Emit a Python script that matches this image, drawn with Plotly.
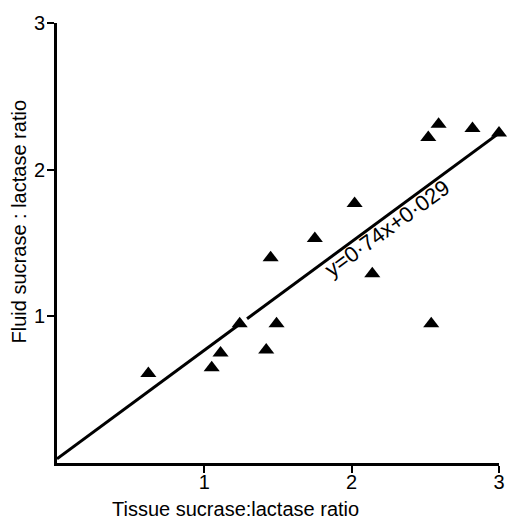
import plotly.graph_objects as go

# Data
tissue_ratio = [0.62, 1.05, 1.11, 1.24, 1.42, 1.45, 1.49, 1.75, 2.02, 2.14, 2.52, 2.54, 2.59, 2.82, 3.00]
fluid_ratio = [0.61, 0.65, 0.75, 0.95, 0.77, 1.40, 0.95, 1.53, 1.77, 1.29, 2.22, 0.95, 2.31, 2.28, 2.25]
slope = 0.74
intercept = 0.029
line_segments = [(0.0, 1.26), (1.29, 3.0)]
tick_vals = [1, 2, 3]
tick_text = ["1", "2", "3"]

FONT = "Liberation Sans, Arial, sans-serif"

fig = go.Figure()

for x0, x1 in line_segments:
    fig.add_trace(go.Scatter(
        x=[x0, x1], y=[slope * x0 + intercept, slope * x1 + intercept],
        mode="lines", line=dict(color="black", width=3),
        showlegend=False, hoverinfo="skip", cliponaxis=False))

fig.add_trace(go.Scatter(
    x=tissue_ratio, y=fluid_ratio, mode="markers",
    marker=dict(symbol="triangle-up", size=14, color="black"),
    showlegend=False, cliponaxis=False))

fig.add_annotation(
    x=2.24, y=1.60, xref="x", yref="y",
    text="y=0·74x+0·029", showarrow=False, textangle=-36,
    font=dict(family=FONT, size=22, color="black"))

fig.add_annotation(
    x=-0.087, y=0.548, xref="paper", yref="paper",
    xanchor="center", yanchor="middle",
    text="Fluid sucrase : lactase ratio", showarrow=False, textangle=-90,
    font=dict(family=FONT, size=20, color="black"))

fig.add_annotation(
    x=0.404, y=-0.105, xref="paper", yref="paper",
    xanchor="center", yanchor="middle",
    text="Tissue sucrase:lactase ratio", showarrow=False,
    font=dict(family=FONT, size=20, color="black"))

axis_common = dict(
    range=[0, 3], showgrid=False, zeroline=False, showline=True,
    linecolor="black", linewidth=3, ticks="outside", ticklen=7,
    tickwidth=2, tickcolor="black", tickvals=tick_vals, ticktext=tick_text,
    tickfont=dict(family=FONT, size=20, color="black"), fixedrange=True,
    ticklabeloverflow="allow")

fig.update_xaxes(**axis_common, ticklabelstandoff=-8)
fig.update_yaxes(**axis_common, ticklabelstandoff=-2)

fig.update_layout(
    width=511, height=520,
    margin=dict(l=57, r=6, t=23, b=57),
    plot_bgcolor="white", paper_bgcolor="white",
    font=dict(family=FONT, color="black"))

fig.write_html(
    "out.html",
    config={"displayModeBar": False},
    post_script="document.body.style.margin='0';document.body.style.overflow='hidden';")
